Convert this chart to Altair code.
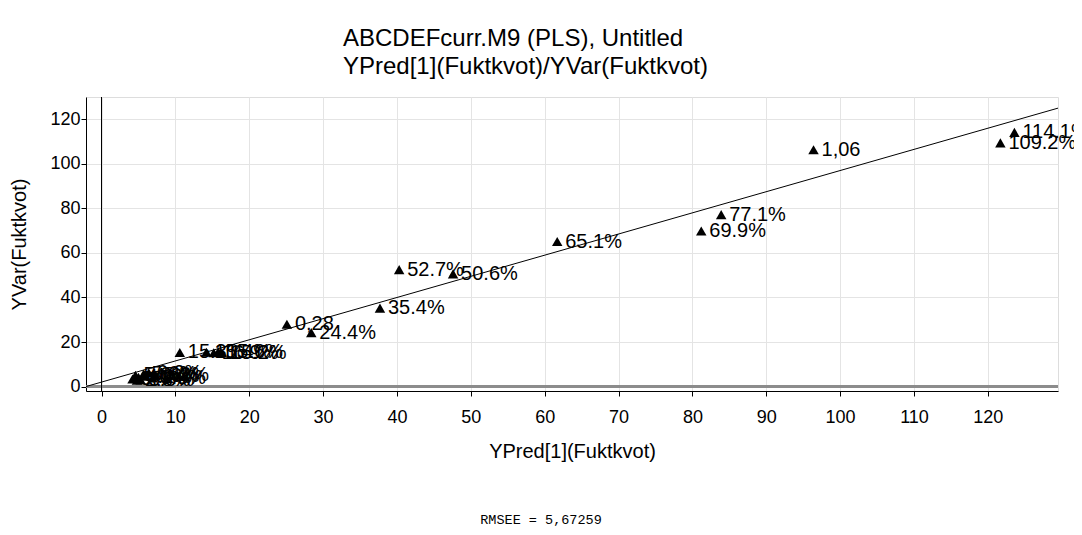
import altair as alt
import pandas as pd

# ---- data ----
x_pred = [96.4, 123.6, 121.7, 83.9, 81.2, 61.7, 40.3, 47.6, 37.7, 25.1, 28.4,
          10.6, 14.2, 15.2, 15.8, 16.3,
          4.2, 4.6, 5.0, 5.3, 5.7, 6.0, 6.4, 6.9, 7.3, 4.8]
y_var = [106.3, 114.1, 109.4, 77.2, 69.8, 65.1, 52.5, 50.6, 35.2, 28.0, 24.2,
         15.3, 15.4, 15.2, 15.6, 15.2,
         3.4, 5.0, 4.2, 3.0, 5.6, 4.6, 6.2, 3.8, 5.2, 2.8]
point_labels = ["1,06", "114.1%", "109.2%", "77.1%", "69.9%", "65.1%", "52.7%", "50.6%",
                "35.4%", "0,28", "24.4%",
                "15.3%", "15.4%", "16.9%", "15.6%", "15.2%",
                "3.4%", "5.0%", "4.2%", "3.0%", "5.6%", "4.6%", "6.2%", "3.8%", "5.2%", "2.8%"]
fit_x = [-2.1, 129.5]
fit_y = [0.0, 125.0]
x_ticks = list(range(0, 130, 5))
y_ticks = list(range(0, 121, 10))
title_lines = ["ABCDEFcurr.M9 (PLS), Untitled", "YPred[1](Fuktkvot)/YVar(Fuktkvot)"]
rmsee_text = ["RMSEE = 5,67259"]

W, H = 972, 294
FONT = "Liberation Sans"

df = pd.DataFrame({"x": x_pred, "y": y_var, "label": point_labels})
fit = pd.DataFrame({"x": fit_x, "y": fit_y})

xscale = alt.Scale(domain=[-2.1, 129.5], nice=False, zero=False)
yscale = alt.Scale(domain=[-2, 130], nice=False, zero=False)

xaxis = alt.Axis(values=x_ticks, labelExpr="datum.value % 10 == 0 ? datum.label : ''",
                 grid=True, gridColor="#e4e4e4", tickColor="black", domainColor="black",
                 tickSize=5, labelPadding=12, labelFontSize=18, labelFont=FONT,
                 labelColor="black", title="YPred[1](Fuktkvot)", titleFontSize=20,
                 titleFont=FONT, titleFontWeight="normal", titleColor="black",
                 titlePadding=15, labelFlush=False, labelOverlap=False)
yaxis = alt.Axis(values=y_ticks, labelExpr="datum.value % 20 == 0 ? datum.label : ''",
                 grid=True, gridColor="#e4e4e4", tickColor="black", domainColor="black",
                 tickSize=5, labelPadding=1, labelFontSize=18, labelFont=FONT,
                 labelColor="black", title="YVar(Fuktkvot)", titleFontSize=20,
                 titleFont=FONT, titleFontWeight="normal", titleColor="black",
                 titlePadding=20, labelFlush=False, labelOverlap=False)

X = alt.X("x:Q", scale=xscale, axis=xaxis)
Y = alt.Y("y:Q", scale=yscale, axis=yaxis)

zero_h = alt.Chart(df).mark_rule(color="#8c8c8c", strokeWidth=2).encode(y=alt.datum(0))
zero_v = alt.Chart(df).mark_rule(color="black", strokeWidth=1).encode(x=alt.datum(0))
line = alt.Chart(fit).mark_line(color="black", strokeWidth=1, clip=True).encode(x="x:Q", y="y:Q")
pts = alt.Chart(df).mark_point(shape="triangle-up", filled=True, color="black",
                               size=110, opacity=1).encode(x=X, y=Y)
txt = alt.Chart(df).mark_text(align="left", baseline="middle", dx=8, fontSize=20,
                              font=FONT, color="black").encode(x="x:Q", y="y:Q", text="label:N")
foot = alt.Chart(pd.DataFrame({"t": rmsee_text})).mark_text(
    font="Liberation Mono", fontSize=13.5, align="center", baseline="middle", color="black"
).encode(text="t:N", x=alt.value(455), y=alt.value(423))

chart = alt.layer(pts, zero_h, zero_v, line, txt, foot).properties(
    width=W, height=H,
    title=alt.TitleParams(title_lines, anchor="start", frame="group", dx=257, fontSize=24,
                          fontWeight="normal", font=FONT, color="black",
                          lineHeight=28, offset=18),
    autosize=alt.AutoSizeParams(type="none"),
    padding={"left": 78, "top": 89, "right": 16, "bottom": 136},
).configure_view(stroke="black", strokeWidth=1).configure(background="white")

chart.save("out.html", embed_options={"renderer": "svg", "actions": False})
